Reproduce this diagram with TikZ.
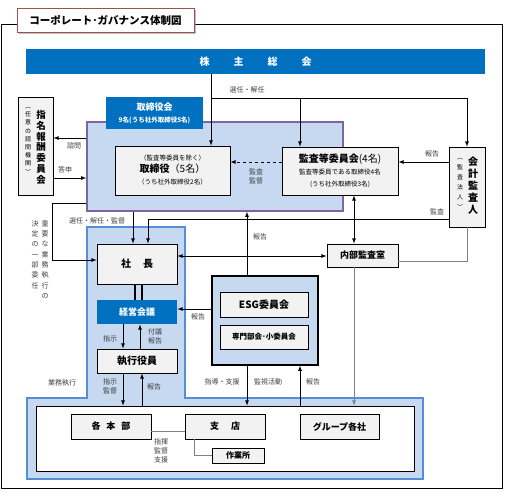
\documentclass[tikz,border=0pt]{standalone}
\usepackage{fontspec}
\setmainfont{Noto Sans CJK JP}
\usetikzlibrary{shadows}
\definecolor{mainblue}{HTML}{0070C0}
\definecolor{paleblue}{HTML}{C6D9F1}
\definecolor{frameblue}{HTML}{558ED5}
\definecolor{boardpurple}{HTML}{8064A2}
\definecolor{boxgray}{HTML}{F2F2F2}
\definecolor{titlered}{HTML}{A05050}
\definecolor{labelgray}{HTML}{404040}
\definecolor{linegray}{HTML}{808080}
\tikzset{>=latex}
\tikzset{
  box/.style = {draw, fill=boxgray, inner sep=0, align=center},
  bluebox/.style = {fill=mainblue, text=white, inner sep=0, align=center},
  lbl/.style = {text=labelgray, font=\fontsize{7}{9}\selectfont, inner sep=0, align=center},
  vtext/.style = {inner sep=0, align=center, anchor=north}
}

\begin{document}
\begin{tikzpicture}[x=1pt,y=-1pt,line width=0.8pt]
  \useasboundingbox (0,0) rectangle (505,498);
  % outer frame and title
  \draw (1,24) rectangle (502,488);
  \node[draw=titlered, fill=white, line width=1pt, drop shadow={shadow xshift=2pt,shadow yshift=-2pt,opacity=0.5},
        minimum width=177, minimum height=24, font=\fontsize{10.5}{12}\selectfont\bfseries] (title) at (105.5,20) {コーポレート･ガバナンス体制図};
  % shareholders
  \node[bluebox, minimum width=459, minimum height=25, font=\fontsize{10}{12}\selectfont\bfseries] (kabu) at (255.5,61.5)
    {株\hspace{24pt}主\hspace{24pt}総\hspace{24pt}会};
  % board of directors
  \node[draw=boardpurple, fill=paleblue, line width=1.5pt, minimum width=256, minimum height=89, inner sep=0] (board) at (215,166.5) {};
  \node[bluebox, minimum width=97, minimum height=32] (boardlbl) at (154.5,113)
    {{\fontsize{9}{11}\selectfont\bfseries 取締役会}\\{\fontsize{6.5}{7}\selectfont\bfseries 9名(うち社外取締役5名)}};
  \node[box, minimum width=115, minimum height=49] (director) at (172.5,170.5)
    {{\fontsize{6.5}{10}\selectfont （監査等委員を除く）}\\{\fontsize{10}{11}\selectfont\bfseries 取締役\mdseries（5名）}\\{\fontsize{6.5}{8}\selectfont （うち社外取締役2名）}};
  \node[box, minimum width=116, minimum height=48] (audit) at (340,171)
    {{\fontsize{10}{11}\selectfont\bfseries 監査等委員会\mdseries(4名)}\\{\fontsize{6.5}{9}\selectfont 監査等委員である取締役4名}\\{\fontsize{6.5}{8}\selectfont (うち社外取締役3名)}};
  % accounting auditor
  \node[box, minimum width=36, minimum height=80] (auditor) at (467,187) {};
  \node[vtext, font=\fontsize{10}{11.8}\selectfont\bfseries] (auditorname) at (473,157) {会\\計\\監\\査\\人};
  \node[vtext, font=\fontsize{6}{10}\selectfont] (auditornote) at (460,158) {︵\\監\\査\\法\\人\\︶};
  % nomination and remuneration committee
  \node[box, minimum width=35, minimum height=98] (nomination) at (35.5,146) {};
  \node[vtext, font=\fontsize{9.5}{10.8}\selectfont\bfseries] (nominationname) at (41,110) {指\\名\\報\\酬\\委\\員\\会};
  \node[vtext, font=\fontsize{6}{8.2}\selectfont] (nominationnote) at (28,107) {︵\\任\\意\\の\\諮\\問\\機\\関\\︶};
  % execution area
  \filldraw[fill=paleblue, draw=frameblue, line width=2pt]
    (87,227) -- (185,227) -- (185,398) -- (423,398) -- (423,479) -- (27,479) -- (27,398) -- (87,398) -- cycle;
  \node[draw, fill=white, minimum width=378, minimum height=65, inner sep=0] (groupall) at (225,438.5) {};
  \node[box, minimum width=80, minimum height=40, font=\fontsize{10}{12}\selectfont\bfseries] (shacho) at (137,264) {社\hspace{12pt}長};
  \node[bluebox, minimum width=80, minimum height=24, font=\fontsize{9}{11}\selectfont\bfseries] (keiei) at (137,312) {経営会議};
  \node[box, minimum width=80, minimum height=24, font=\fontsize{10}{12}\selectfont\bfseries] (shikko) at (137,361) {執行役員};
  \node[box, minimum width=71, minimum height=23, font=\fontsize{9}{11}\selectfont\bfseries] (naibu) at (362.5,255.5) {内部監査室};
  % ESG
  \node[draw, fill=paleblue, line width=1.3pt, minimum width=106, minimum height=89, inner sep=0] (esgarea) at (265,320.5) {};
  \node[box, minimum width=88, minimum height=25, font=\fontsize{10}{12}\selectfont\bfseries] (esg) at (264,304.5) {ESG委員会};
  \node[box, minimum width=88, minimum height=24, font=\fontsize{7.5}{9}\selectfont\bfseries] (senmon) at (264,337) {専門部会･小委員会};
  % group companies
  \node[box, minimum width=80, minimum height=25, font=\fontsize{9}{11}\selectfont\bfseries] (honbu) at (111,426.5) {各\hspace{6pt}本\hspace{6pt}部};
  \node[box, minimum width=80, minimum height=25, font=\fontsize{9}{11}\selectfont\bfseries] (shiten) at (225,426.5) {支\hspace{12pt}店};
  \node[box, minimum width=52, minimum height=15, font=\fontsize{8}{10}\selectfont\bfseries] (sagyo) at (238,455.5) {作業所};
  \node[box, minimum width=79, minimum height=25, font=\fontsize{9}{11}\selectfont\bfseries] (group) at (339.5,426.5) {グループ各社};

  % connectors from shareholders
  \coordinate (split) at (211,98);
  \draw[->] (kabu.south -| split) -- (director.north -| split);
  \draw (split) -- (split -| auditor.north);
  \draw[->] (split -| auditor.north) -- (auditor.north);
  \draw[->] (split -| 300,0) -- (audit.north -| 300,0);
  % nomination
  \draw[->] (board.west |- 0,138) -- (nomination.east |- 0,138);
  \draw[->] (nomination.east |- 0,178) -- (board.west |- 0,178);
  % audit
  \draw[->, dashed] (audit.west |- 0,162) -- (director.east |- 0,162);
  \draw[->] (auditor.west |- 0,162) -- (audit.east |- 0,162);
  \draw[->] (auditor.west |- 0,219) -- (148,219) -- (shacho.north -| 148,0);
  \draw[->] (board.south -| 133,0) -- (shacho.north -| 133,0);
  \draw[->] (board.west |- 0,203) -- (52,203) -- (52,260) -- (shacho.west |- 0,260);
  \draw[->] (esgarea.north -| 247,0) -- (board.south -| 247,0);
  \draw[<->] (shacho.east |- 0,256) -- (naibu.west |- 0,256);
  \draw[<->] (audit.south -| 354,0) -- (naibu.north -| 354,0);
  \draw[linegray] (naibu.east |- 0,261) -| (auditor.south);
  \draw[->, linegray] (naibu.south -| 354,0) -- (groupall.north -| 354,0);
  % execution
  \draw[line width=2.5pt] (shacho.south -| 135,0) -- (keiei.north -| 135,0);
  \draw[line width=2.5pt] (shacho.south -| 142,0) -- (keiei.north -| 142,0);
  \draw[->] (keiei.south -| 123,0) -- (shikko.north -| 123,0);
  \draw[->] (shikko.north -| 140,0) -- (keiei.south -| 140,0);
  \draw[->] (esgarea.west |- 0,309) -- (keiei.east |- 0,309);
  \draw[->] (shikko.south -| 123,0) -- (groupall.north -| 123,0);
  \draw[->] (groupall.north -| 142,0) -- (shikko.south -| 142,0);
  \draw[->] (esgarea.south -| 247,0) -- (groupall.north -| 247,0);
  \draw[->] (groupall.north -| 300,0) -- (esgarea.south -| 300,0);
  \draw[linegray] (honbu.east |- 0,431) -- (shiten.west |- 0,431);
  \draw[linegray] (shiten.south -| 194,0) |- (sagyo.west);

  % labels
  \node[lbl] (lblelect) at (247,90) {選任・解任};
  \node[lbl] (lblconsult) at (74,146) {諮問};
  \node[lbl] (lblanswer) at (65,170) {答申};
  \node[lbl] (lblsuper) at (256,176) {監査\\監督};
  \node[lbl] (lblreportA) at (432,154) {報告};
  \node[lbl] (lblauditA) at (437,212) {監査};
  \node[lbl] (lblelectB) at (97,221) {選任・解任・監督};
  \node[lbl] (lblreportB) at (260,237) {報告};
  \node[lbl, anchor=north, font=\fontsize{7}{10.3}\selectfont] (lbldelegA) at (45,220) {重\\要\\な\\業\\務\\執\\行\\の};
  \node[lbl, anchor=north, font=\fontsize{7}{10.3}\selectfont] (lbldelegB) at (35,220) {決\\定\\の\\一\\部\\委\\任};
  \node[lbl] (lblreportC) at (198,317) {報告};
  \node[lbl] (lblorder) at (110,339) {指示};
  \node[lbl] (lblsubmit) at (155,336) {付議\\報告};
  \node[lbl] (lblorderB) at (110,386) {指示\\監督};
  \node[lbl] (lblreportD) at (154,387) {報告};
  \node[lbl] (lblexec) at (62,383) {業務執行};
  \node[lbl] (lblguide) at (222,382) {指導・支援};
  \node[lbl] (lblmonitor) at (268,382) {監視活動};
  \node[lbl] (lblreportE) at (313,382) {報告};
  \node[lbl] (lblcommand) at (161,451) {指揮\\監督\\支援};
\end{tikzpicture}
\end{document}
